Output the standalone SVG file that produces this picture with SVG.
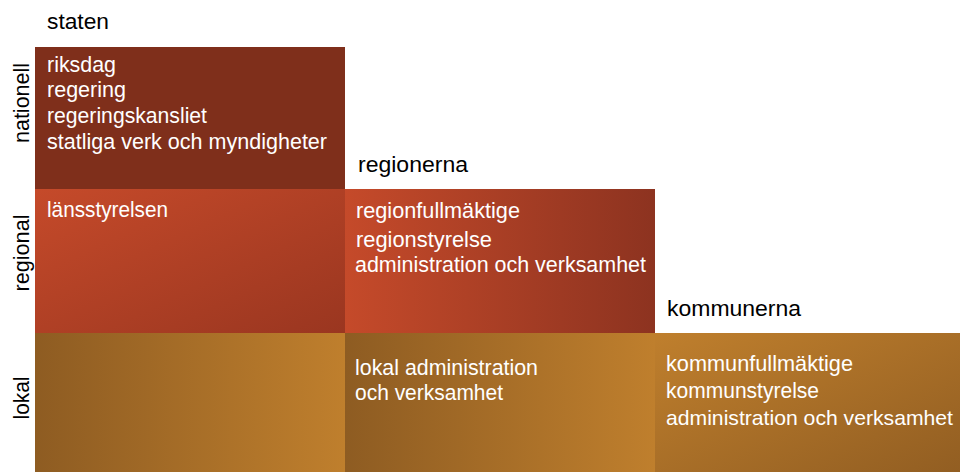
<svg xmlns="http://www.w3.org/2000/svg" width="960" height="472" viewBox="0 0 960 472">
<defs>
<linearGradient id="gRegDiag" x1="0" y1="0" x2="1" y2="1">
<stop offset="0" stop-color="#c54a2a"/><stop offset="1" stop-color="#9a3620"/>
</linearGradient>
<linearGradient id="gRegH" x1="0" y1="0" x2="1" y2="0">
<stop offset="0" stop-color="#c54a2a"/><stop offset="1" stop-color="#8d3320"/>
</linearGradient>
<linearGradient id="gLokH" x1="0" y1="0" x2="1" y2="0">
<stop offset="0" stop-color="#8e5c22"/><stop offset="1" stop-color="#bf7f2d"/>
</linearGradient>
<linearGradient id="gLokDiag" x1="0" y1="0" x2="1" y2="1">
<stop offset="0" stop-color="#bf7f2d"/><stop offset="1" stop-color="#925e22"/>
</linearGradient>
</defs>
<style>
text{font-family:"Liberation Sans","DejaVu Sans",sans-serif;font-size:22px}
.w{fill:#ffffff}
.k{fill:#000000;font-size:22px}
.b{font-size:22.5px}
.s{font-size:21px}
</style>
<rect width="960" height="472" fill="#ffffff"/>
<g id="headers">
<text class="k" x="47" y="29" textLength="62" lengthAdjust="spacingAndGlyphs">staten</text>
<text class="k" x="358" y="172" textLength="110" lengthAdjust="spacingAndGlyphs">regionerna</text>
<text class="k" x="667" y="316" textLength="134" lengthAdjust="spacingAndGlyphs">kommunerna</text>
</g>
<g id="levels">
<text class="k" transform="translate(29,103) rotate(-90)" text-anchor="middle" textLength="80" lengthAdjust="spacingAndGlyphs">nationell</text>
<text class="k" transform="translate(29,253) rotate(-90)" text-anchor="middle" textLength="77" lengthAdjust="spacingAndGlyphs">regional</text>
<text class="k" transform="translate(29,398) rotate(-90)" text-anchor="middle" textLength="43" lengthAdjust="spacingAndGlyphs">lokal</text>
</g>
<g id="stat-nationell">
<rect x="35" y="47" width="310" height="142" fill="#7f2f1b"/>
<text class="w" x="47" y="72" textLength="69" lengthAdjust="spacingAndGlyphs">riksdag</text>
<text class="w" x="47" y="97" textLength="79" lengthAdjust="spacingAndGlyphs">regering</text>
<text class="w" x="47" y="123" textLength="160" lengthAdjust="spacingAndGlyphs">regeringskansliet</text>
<text class="w" x="47" y="149" textLength="280" lengthAdjust="spacingAndGlyphs">statliga verk och myndigheter</text>
</g>
<g id="stat-regional">
<rect x="35" y="189" width="310" height="144" fill="url(#gRegDiag)"/>
<text class="w" x="47" y="217" textLength="121" lengthAdjust="spacingAndGlyphs">länsstyrelsen</text>
</g>
<g id="stat-lokal">
<rect x="35" y="333" width="310" height="139" fill="url(#gLokH)"/>
</g>
<g id="region-regional">
<rect x="345" y="189" width="310" height="144" fill="url(#gRegH)"/>
<text class="w b" x="356" y="218" textLength="164" lengthAdjust="spacingAndGlyphs">regionfullmäktige</text>
<text class="w b" x="356" y="247" textLength="136" lengthAdjust="spacingAndGlyphs">regionstyrelse</text>
<text class="w" x="355" y="272" textLength="291" lengthAdjust="spacingAndGlyphs">administration och verksamhet</text>
</g>
<g id="region-lokal">
<rect x="345" y="333" width="310" height="139" fill="url(#gLokH)"/>
<text class="w" x="355" y="375" textLength="183" lengthAdjust="spacingAndGlyphs">lokal administration</text>
<text class="w" x="355" y="400" textLength="148" lengthAdjust="spacingAndGlyphs">och verksamhet</text>
</g>
<g id="kommun-lokal">
<rect x="655" y="333" width="305" height="139" fill="url(#gLokDiag)"/>
<text class="w b" x="666" y="371" textLength="187" lengthAdjust="spacingAndGlyphs">kommunfullmäktige</text>
<text class="w" x="666" y="398" textLength="153" lengthAdjust="spacingAndGlyphs">kommunstyrelse</text>
<text class="w s" x="666" y="425" textLength="287" lengthAdjust="spacingAndGlyphs">administration och verksamhet</text>
</g>
<g id="connectors"/>
</svg>
